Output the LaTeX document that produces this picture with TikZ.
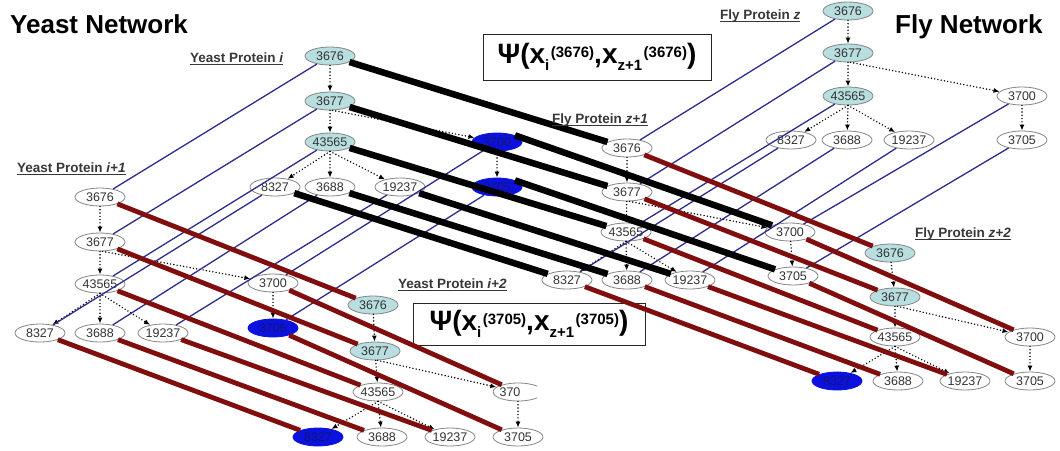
\documentclass[tikz,border=0pt]{standalone}
\usepackage{fontspec}
\setmainfont{Liberation Sans}
\usetikzlibrary{shapes.geometric,arrows.meta}
\definecolor{cyanfill}{RGB}{184,222,224}
\definecolor{bluefill}{RGB}{12,18,222}
\definecolor{bluetext}{RGB}{20,20,110}
\definecolor{navyline}{RGB}{45,45,140}
\definecolor{redline}{RGB}{128,14,14}
\definecolor{nodeline}{RGB}{135,135,135}
\definecolor{labelgray}{RGB}{55,55,55}
\newcommand{\uln}[1]{\setbox0\hbox{#1}\rlap{\rule[-2.4pt]{\wd0}{0.9pt}}\box0}
\newcommand{\xss}[2]{x\raisebox{-7pt}{\fontsize{15}{15}\selectfont #1}\hspace{1.5pt}\raisebox{6.5pt}{\fontsize{15}{15}\selectfont #2}}
\tikzset{
  pnode/.style={ellipse, draw=nodeline, line width=0.8pt, fill=white, minimum width=50pt, minimum height=18pt, inner sep=0pt, text=black!80, font=\fontsize{12.5}{12.5}\selectfont},
  cnode/.style={pnode, fill=cyanfill},
  bnode/.style={pnode, fill=bluefill, draw=bluefill, text=bluetext},
  darr/.style={line width=1.6pt, dash pattern=on 0pt off 3.3pt, line cap=round, -{Latex[length=6pt,width=5pt]}},
  yline/.style={navyline, line width=1.3pt},
  kline/.style={black, line width=6.5pt},
  rline/.style={redline, line width=4.8pt},
  plabel/.style={font=\fontsize{13.5}{13.5}\selectfont\bfseries, text=labelgray, inner sep=0pt, anchor=base west},
  netlabel/.style={font=\fontsize{26}{26}\selectfont\bfseries, inner sep=0pt, anchor=base west},
  psibox/.style={draw=black!85, line width=1pt, fill=white, inner sep=0pt, font=\fontsize{28}{28}\selectfont\bfseries}
}
\begin{document}
\begin{tikzpicture}[x=1pt,y=-1pt]
\fill[white] (0,0) rectangle (1060,450);
\useasboundingbox (0,0) rectangle (1060,450);

% Yeast protein i
\node[cnode] (YA1) at (330,56) {3676};
\node[cnode] (YA2) at (330,101) {3677};
\node[cnode] (YA3) at (330,142) {43565};
\node[bnode] (YA4) at (497,142) {3700};
\node[pnode] (YA5) at (275,187) {8327};
\node[pnode] (YA6) at (330,187) {3688};
\node[pnode] (YA7) at (400,187) {19237};
\node[bnode] (YA8) at (497,187) {3705};

% Yeast protein i+1
\node[pnode] (YB1) at (100,197) {3676};
\node[pnode] (YB2) at (100,242) {3677};
\node[pnode] (YB3) at (100,284) {43565};
\node[pnode] (YB4) at (273,283) {3700};
\node[pnode] (YB5) at (40,333) {8327};
\node[pnode] (YB6) at (100,333) {3688};
\node[pnode] (YB7) at (163,333) {19237};
\node[bnode] (YB8) at (273,328) {3705};

% Yeast protein i+2
\node[cnode] (YC1) at (373,305) {3676};
\node[cnode] (YC2) at (375,351) {3677};
\node[pnode] (YC3) at (378,392) {43565};
\node[pnode, draw=none, fill=none] (YC4) at (518,392) {};
\draw[nodeline, line width=0.8pt] ([shift={(40:25pt and 9pt)}]YC4.center) arc[start angle=40, end angle=320, x radius=25pt, y radius=9pt];
\node[font=\fontsize{12.5}{12.5}\selectfont, text=black!80, inner sep=0pt] (YC4t) at (510,392) {370};
\node[bnode] (YC5) at (318,437) {8327};
\node[pnode] (YC6) at (382,437) {3688};
\node[pnode] (YC7) at (450,437) {19237};
\node[pnode] (YC8) at (518,437) {3705};

% Fly protein z
\node[cnode] (FA1) at (848,11) {3676};
\node[cnode] (FA2) at (848,53) {3677};
\node[cnode] (FA3) at (848,96) {43565};
\node[pnode] (FA4) at (1022,96) {3700};
\node[pnode] (FA5) at (791,140) {8327};
\node[pnode] (FA6) at (847,140) {3688};
\node[pnode] (FA7) at (909,140) {19237};
\node[pnode] (FA8) at (1022,140) {3705};

% Fly protein z+1
\node[pnode] (FB1) at (627,148) {3676};
\node[pnode] (FB2) at (627,192) {3677};
\node[pnode] (FB3) at (626,232) {43565};
\node[pnode] (FB4) at (790,232) {3700};
\node[pnode] (FB5) at (567,280) {8327};
\node[pnode] (FB6) at (627,280) {3688};
\node[pnode] (FB7) at (690,280) {19237};
\node[pnode] (FB8) at (793,276) {3705};

% Fly protein z+2
\node[cnode] (FC1) at (890,253) {3676};
\node[cnode] (FC2) at (895,297) {3677};
\node[pnode] (FC3) at (895,337) {43565};
\node[pnode] (FC4) at (1030,337) {3700};
\node[bnode] (FC5) at (837,381) {8327};
\node[pnode] (FC6) at (898,381) {3688};
\node[pnode] (FC7) at (965,381) {19237};
\node[pnode] (FC8) at (1030,381) {3705};

% tree edges
\foreach \p in {YA,YB,YC,FA,FB,FC}{
  \draw[darr] (\p1) -- (\p2);
  \draw[darr] (\p2) -- (\p3);
  \draw[darr] (\p2.-75) -- (\p4);
  \draw[darr] (\p3.south) -- (\p5);
  \draw[darr] (\p3.south) -- (\p6);
  \draw[darr] (\p3.south) -- (\p7);
  \draw[darr] (\p4) -- (\p8);
}

% potential boxes
\node[psibox, minimum width=228pt, minimum height=46pt] (psi1) at (597,57) {Ψ(\xss{i}{(3676)},\xss{z+1}{(3676)})};
\node[psibox, minimum width=232pt, minimum height=42pt] (psi2) at (529,324) {Ψ(\xss{i}{(3705)},\xss{z+1}{(3705)})};

% connectors
\foreach \k in {1,...,8}{
  \draw[yline] (YA\k) -- (YB\k);
  \draw[yline] (FA\k) -- (FB\k);
}
\foreach \k in {1,2,3,5,6,7}{
  \draw[kline] (YA\k) -- (FB\k);
}
\draw[kline] (YA4.north east) -- (FB4.north west);
\draw[kline] (YA8.north east) -- (FB8.north west);
\foreach \k in {1,...,8}{
  \draw[rline] (YB\k) -- (YC\k);
  \draw[rline] (FB\k) -- (FC\k);
}

% labels
\node[netlabel] (ynet) at (10,33) {Yeast Network};
\node[netlabel] (fnet) at (895,33) {Fly Network};
\node[plabel] (lyi) at (190,62) {\uln{Yeast Protein \textit{i}}};
\node[plabel] (lyi1) at (17,172) {\uln{Yeast Protein \textit{i+1}}};
\node[plabel] (lyi2) at (398,288) {\uln{Yeast Protein \textit{i+2}}};
\node[plabel] (lfz) at (720,19.5) {\uln{Fly Protein \textit{z}}};
\node[plabel] (lfz1) at (552,123) {\uln{Fly Protein \textit{z+1}}};
\node[plabel] (lfz2) at (915,237) {\uln{Fly Protein \textit{z+2}}};
\end{tikzpicture}
\end{document}
